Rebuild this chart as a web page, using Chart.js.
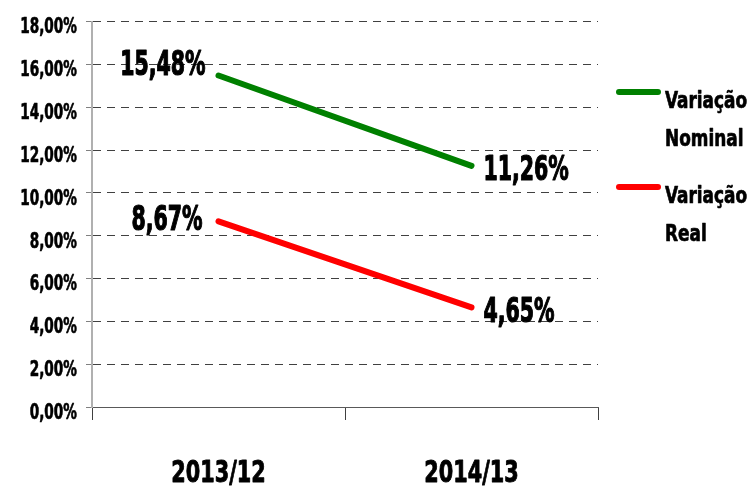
<!DOCTYPE html>
<html><head><meta charset="utf-8">
<script src="https://cdn.jsdelivr.net/npm/chart.js@4/dist/chart.umd.min.js"></script>
<style>html,body{margin:0;padding:0;background:#fff}#wrap{width:754px;height:492px}</style>
</head><body><div id="wrap"><canvas id="c" width="754" height="492"></canvas></div>
<script>
const categories = ['2013/12', '2014/13'];
const nominalLabel = ['Variação', 'Nominal'];
const realLabel = ['Variação', 'Real'];
const nominalValues = [15.48, 11.26];
const realValues = [8.67, 4.65];
const yTicks = [0, 2, 4, 6, 8, 10, 12, 14, 16, 18];

const FONT = "'DejaVu Sans Condensed', 'DejaVu Sans', sans-serif";
const fmt = v => v.toFixed(2).replace('.', ',') + '%';

// draw condensed (horizontally compressed) bold text; yc = vertical centre of digits/caps
function drawText(ctx, text, x, yc, size, sx, align, thick) {
  ctx.save();
  ctx.font = 'bold ' + size + 'px ' + FONT;
  ctx.textBaseline = 'alphabetic';
  ctx.textAlign = align;
  ctx.translate(x, yc + size * 0.729 / 2);
  ctx.scale(sx, 1);
  ctx.fillStyle = '#000';
  ctx.fillText(text, 0, 0);
  if (thick) {
    ctx.strokeStyle = '#000';
    ctx.lineWidth = thick;
    ctx.lineJoin = 'round';
    ctx.strokeText(text, 0, 0);
  }
  ctx.restore();
}

const labelOffsets = [
  [{ dx: -13, dy: -13 }, { dx: 12, dy: 2 }],
  [{ dx: -16, dy: -4 }, { dx: 12, dy: 2 }]
];

const textPlugin = {
  id: 'texts',
  afterDraw(chart) {
    const ctx = chart.ctx;
    const ys = chart.scales.y, xs = chart.scales.x;
    ys.ticks.forEach(t => {
      drawText(ctx, fmt(t.value), 77, ys.getPixelForValue(t.value) + 4.5, 20.5, 0.74, 'right', 0.6);
    });
    categories.forEach((c, i) => {
      drawText(ctx, c, xs.getPixelForValue(i), 471, 30, 0.77, 'center', 0.9);
    });
    chart.data.datasets.forEach((ds, di) => {
      const meta = chart.getDatasetMeta(di);
      meta.data.forEach((pt, i) => {
        const o = labelOffsets[di][i];
        drawText(ctx, fmt(ds.data[i]), pt.x + o.dx, pt.y + o.dy, 34, 0.67, i === 0 ? 'right' : 'left', 1.2);
      });
    });
    const lineYs = [92, 187];
    const textYs = [[99, 137], [194, 232]];
    chart.data.datasets.forEach((ds, di) => {
      ctx.save();
      ctx.strokeStyle = ds.borderColor;
      ctx.lineWidth = 6;
      ctx.lineCap = 'round';
      ctx.beginPath(); ctx.moveTo(619, lineYs[di]); ctx.lineTo(658, lineYs[di]); ctx.stroke();
      ctx.restore();
      ds.label.forEach((line, k) => drawText(ctx, line, 665, textYs[di][k], 23.5, 0.8, 'left', 0.7));
    });
  }
};

new Chart(document.getElementById('c'), {
  type: 'line',
  data: {
    labels: categories,
    datasets: [
      { label: nominalLabel, data: nominalValues, borderColor: '#008000', backgroundColor: '#008000', borderWidth: 6, pointRadius: 0, borderCapStyle: 'round' },
      { label: realLabel, data: realValues, borderColor: '#ff0000', backgroundColor: '#ff0000', borderWidth: 6, pointRadius: 0, borderCapStyle: 'round' }
    ]
  },
  options: {
    responsive: false,
    animation: false,
    layout: { padding: { left: 0, right: 156, top: 21.5, bottom: 0 } },
    plugins: { legend: { display: false }, tooltip: { enabled: false } },
    scales: {
      x: {
        offset: true,
        grid: { offset: true, drawOnChartArea: false, drawTicks: true, tickLength: 13, color: '#404040', lineWidth: 1 },
        border: { color: '#595959', width: 1 },
        ticks: { display: false },
        afterFit: s => { s.height = 85; }
      },
      y: {
        min: 0, max: 18,
        afterBuildTicks: s => { s.ticks = yTicks.map(v => ({ value: v })); },
        grid: { color: '#404040', lineWidth: 1, drawTicks: true, tickLength: 6, tickColor: '#808080', tickBorderDash: [] },
        border: { color: '#b0b0b0', width: 2, dash: [8, 6] },
        ticks: { display: false },
        afterFit: s => { s.width = 92; }
      }
    }
  },
  plugins: [textPlugin]
});
</script></body></html>
